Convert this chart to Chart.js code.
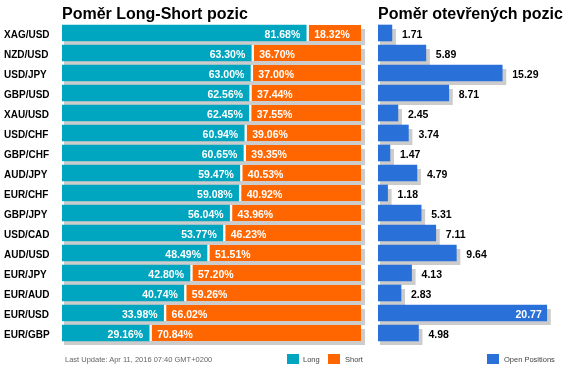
<!DOCTYPE html>
<html>
<head>
<meta charset="utf-8">
<script src="https://cdn.jsdelivr.net/npm/chart.js@4.4.1/dist/chart.umd.min.js"></script>
<style>
    body { margin: 0; background: #fff; font-family: 'Liberation Sans', Arial, sans-serif; }
    #wrap { position: relative; width: 569px; height: 371px; overflow: hidden; }
    canvas { position: absolute; left: 0; top: 0; }
    .titulo { position: absolute; top: 6px; font-size: 16px; line-height: 16px; font-weight: bold; color: #000; white-space: nowrap; }
    .pie { position: absolute; top: 355px; font-size: 7.5px; line-height: 10px; color: #666; white-space: nowrap; }
    .caja { position: absolute; top: 354px; width: 12px; height: 10px; }
</style>
</head>
<body>
<div id="wrap">
    <canvas id="graficaRatio" width="569" height="371"></canvas>
    <canvas id="graficaAbiertas" width="569" height="371"></canvas>
    <div class="titulo" style="left:62px">Poměr Long-Short pozic</div>
    <div class="titulo" style="left:378px">Poměr otevřených pozic</div>
    <div class="pie" style="left:65px">Last Update: Apr 11, 2016 07:40 GMT+0200</div>
    <div class="caja" style="left:287px;background:#00a6bf"></div>
    <div class="pie" style="left:303px;color:#444">Long</div>
    <div class="caja" style="left:328px;background:#ff6600"></div>
    <div class="pie" style="left:345px;color:#444">Short</div>
    <div class="caja" style="left:487px;background:#2a70d9"></div>
    <div class="pie" style="left:504px;color:#444">Open Positions</div>
</div>
<script>
const pares = ['XAG/USD', 'NZD/USD', 'USD/JPY', 'GBP/USD', 'XAU/USD', 'USD/CHF', 'GBP/CHF', 'AUD/JPY',
    'EUR/CHF', 'GBP/JPY', 'USD/CAD', 'AUD/USD', 'EUR/JPY', 'EUR/AUD', 'EUR/USD', 'EUR/GBP'];
const longPct = [81.68, 63.30, 63.00, 62.56, 62.45, 60.94, 60.65, 59.47, 59.08, 56.04, 53.77, 48.49, 42.80, 40.74, 33.98, 29.16];
const shortPct = [18.32, 36.70, 37.00, 37.44, 37.55, 39.06, 39.35, 40.53, 40.92, 43.96, 46.23, 51.51, 57.20, 59.26, 66.02, 70.84];
const abiertas = [1.71, 5.89, 15.29, 8.71, 2.45, 3.74, 1.47, 4.79, 1.18, 5.31, 7.11, 9.64, 4.13, 2.83, 20.77, 4.98];

const fuente = "'Liberation Sans', Arial, sans-serif";

// sombra gris detras de cada barra
const sombra = {
    id: 'sombra',
    beforeDatasetsDraw(chart) {
        const ctx = chart.ctx;
        const n = chart.data.datasets.length;
        const primero = chart.getDatasetMeta(0).data;
        const ultimo = chart.getDatasetMeta(n - 1).data;
        ctx.save();
        ctx.fillStyle = '#cccccc';
        primero.forEach(function (b, i) {
            const p = b.getProps(['base', 'y', 'height'], true);
            const q = ultimo[i].getProps(['x'], true);
            ctx.fillRect(p.base + 2, p.y - p.height / 2 + 4, q.x - p.base + 2, p.height);
        });
        ctx.restore();
    }
};

// etiquetas de porcentaje
const etiquetasRatio = {
    id: 'etiquetasRatio',
    afterDatasetsDraw(chart) {
        const ctx = chart.ctx;
        ctx.save();
        ctx.font = 'bold 10.5px ' + fuente;
        ctx.fillStyle = '#fff';
        ctx.textBaseline = 'alphabetic';
        chart.getDatasetMeta(0).data.forEach(function (b, i) {
            const p = b.getProps(['x', 'y'], true);
            ctx.textAlign = 'right';
            ctx.fillText(longPct[i].toFixed(2) + '%', p.x - 6, p.y + 5);
        });
        chart.getDatasetMeta(1).data.forEach(function (b, i) {
            const p = b.getProps(['base', 'y'], true);
            ctx.textAlign = 'left';
            ctx.fillText(shortPct[i].toFixed(2) + '%', p.base + 8, p.y + 5);
        });
        ctx.restore();
    }
};

const etiquetasAbiertas = {
    id: 'etiquetasAbiertas',
    afterDatasetsDraw(chart) {
        const ctx = chart.ctx;
        ctx.save();
        ctx.font = 'bold 10.5px ' + fuente;
        ctx.textBaseline = 'alphabetic';
        chart.getDatasetMeta(0).data.forEach(function (b, i) {
            const p = b.getProps(['x', 'y'], true);
            const txt = abiertas[i].toFixed(2);
            const w = ctx.measureText(txt).width;
            if (p.x + 10 + w > chart.width - 2) {
                ctx.fillStyle = '#fff';
                ctx.textAlign = 'right';
                ctx.fillText(txt, p.x - 5, p.y + 5);
            } else {
                ctx.fillStyle = '#000';
                ctx.textAlign = 'left';
                ctx.fillText(txt, p.x + 10, p.y + 5);
            }
        });
        ctx.restore();
    }
};

// Grafica de barras apiladas Long / Short
new Chart(document.getElementById('graficaRatio'), {
    type: 'bar',
    data: {
        labels: pares,
        datasets: [{
            label: 'Long',
            data: longPct,
            backgroundColor: '#00a6bf',
            borderWidth: 0,
            barThickness: 16
        }, {
            label: 'Short',
            data: shortPct,
            backgroundColor: '#ff6600',
            borderColor: '#ffffff',
            borderWidth: { left: 3, right: 0, top: 0, bottom: 0 },
            borderSkipped: false,
            barThickness: 16
        }]
    },
    options: {
        indexAxis: 'y',
        responsive: false,
        animation: false,
        layout: { padding: { left: 4, top: 23, right: 208, bottom: 28 } },
        plugins: { legend: { display: false }, title: { display: false }, tooltip: { enabled: false } },
        scales: {
            x: { stacked: true, min: 0, max: 100, display: false },
            y: {
                stacked: true,
                grid: { display: false },
                border: { display: false },
                ticks: { crossAlign: 'far', color: '#000', padding: 0, labelOffset: 2, font: { family: fuente, size: 10, weight: 'bold' } },
                afterFit: function (s) { s.width = 58; }
            }
        }
    },
    plugins: [sombra, etiquetasRatio]
});

// Grafica de posiciones abiertas
new Chart(document.getElementById('graficaAbiertas'), {
    type: 'bar',
    data: {
        labels: pares,
        datasets: [{
            label: 'Open Positions',
            data: abiertas,
            backgroundColor: '#2a70d9',
            borderWidth: 0,
            barThickness: 16
        }]
    },
    options: {
        indexAxis: 'y',
        responsive: false,
        animation: false,
        layout: { padding: { left: 378, top: 23, right: 9, bottom: 28 } },
        plugins: { legend: { display: false }, title: { display: false }, tooltip: { enabled: false } },
        scales: {
            x: { min: 0, max: 22.4, display: false },
            y: { display: false }
        }
    },
    plugins: [sombra, etiquetasAbiertas]
});
</script>
</body>
</html>
